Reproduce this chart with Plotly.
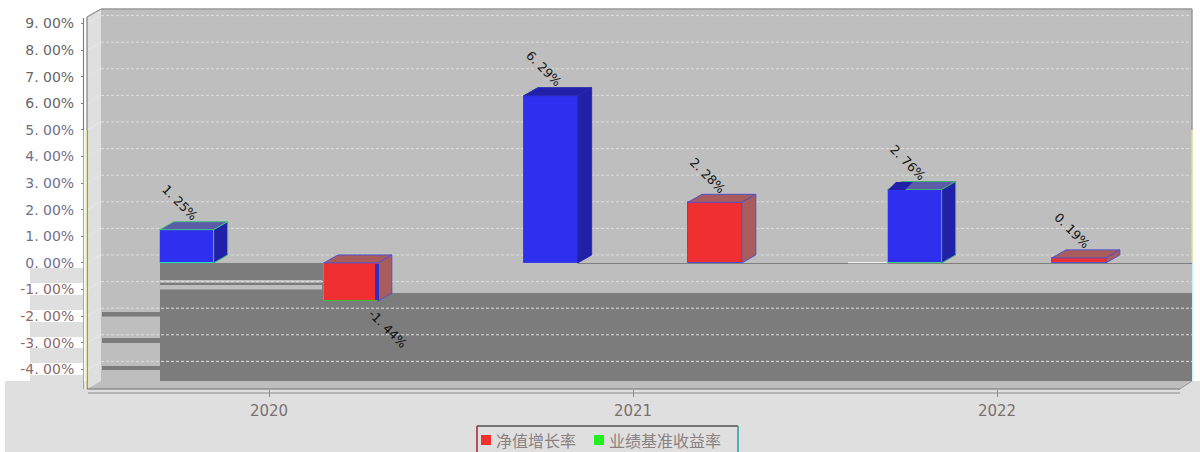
import plotly.graph_objects as go

# ---- data ----
categories = ["2020", "2021", "2022"]
series_nav = [-1.44, 2.28, 0.19]          # 净值增长率
series_benchmark = [1.25, 6.29, 2.76]     # 业绩基准收益率
y_ticks = [9, 8, 7, 6, 5, 4, 3, 2, 1, 0, -1, -2, -3, -4]
y_labels = ["9. 00%", "8. 00%", "7. 00%", "6. 00%", "5. 00%", "4. 00%", "3. 00%",
            "2. 00%", "1. 00%", "0. 00%", "-1. 00%", "-2. 00%", "-3. 00%", "-4. 00%"]
nav_labels = ["-1. 44%", "2. 28%", "0. 19%"]
benchmark_labels = ["1. 25%", "6. 29%", "2. 76%"]
legend_names = ["净值增长率", "业绩基准收益率"]

W, H = 1200, 452
PLOT_L, PLOT_R, PLOT_B = 87, 1179, 389
Y_MIN, Y_MAX = -4.74, 9.887
X_MIN, X_MAX = -0.5, 2.5
BAR_W = 0.148
DX = 14 / 364      # depth in x units
DY = 8 / 26.6      # depth in y units
xs = list(range(len(categories)))

def px(x):
    return x / W

def py(y):
    return 1 - y / H

shapes = []

def rect(x0, y0, x1, y1, color, layer="below"):
    shapes.append(dict(type="rect", xref="paper", yref="paper", x0=px(x0), x1=px(x1),
                       y0=py(y0), y1=py(y1), fillcolor=color, line=dict(width=0), layer=layer))

def seg(x0, y0, x1, y1, color, width=1, dash="solid", layer="below"):
    shapes.append(dict(type="line", xref="paper", yref="paper", x0=px(x0), x1=px(x1),
                       y0=py(y0), y1=py(y1), line=dict(color=color, width=width, dash=dash), layer=layer))

def poly(points, color, layer="below"):
    path = "M " + " L ".join(f"{px(a):.5f},{py(b):.5f}" for a, b in points) + " Z"
    shapes.append(dict(type="path", xref="paper", yref="paper", path=path,
                       fillcolor=color, line=dict(width=0), layer=layer))

GREY, WALL, DARK = "#dfdfdf", "#bebebe", "#7c7c7c"
# outer grey regions
rect(5, 381, 1200, 452, GREY)
rect(30, 268, 83, 381, GREY)
for a, b in [(283, 295), (310, 322), (337, 348), (363, 375)]:
    rect(30, a, 83, b, "#ffffff")
# back wall, side wall, floor
poly([(101, 9), (1192, 9), (1192, 381), (101, 381)], WALL)
poly([(87, 17), (101, 9), (101, 381), (87, 389)], GREY)
poly([(87, 389), (101, 381), (1192, 381), (1180, 389)], WALL)
# dark patches on the back wall
poly([(160, 263), (380, 263), (380, 293), (1192, 293), (1192, 381), (160, 381)], DARK)
rect(160, 280, 322, 282.7, WALL)
rect(160, 285, 322, 289.5, WALL)
for a, b in [(312, 316.6), (338, 343), (366, 370)]:
    rect(102, a, 160, b, DARK)
# grid lines on back wall, following the tick values
y_to_px = lambda v: (Y_MAX - v) * 26.6
for v in y_ticks:
    gy = y_to_px(v) - 8
    seg(101, gy, 1192, gy, "#dedede", 1, "3px,2px")
    seg(87, gy + 8, 101, gy, "#e8e8e8", 1)
# axis frame lines
seg(83.5, 18, 83.5, 130, "#808080", 1.2)
seg(87, 17, 87, 130, "#808080", 1.2)
seg(87, 17, 101, 9, "#909090", 1.2)
seg(101, 9, 1192, 9, "#999999", 1.5)
seg(83.5, 130, 83.5, 389, "#c58be8", 1)
seg(85.8, 130, 85.8, 389, "#fffb70", 1.5)
seg(87.3, 130, 87.3, 389, "#808080", 1)
seg(1192, 9, 1192, 130, "#999999", 1.5)
seg(1192, 130, 1192, 263, "#d8d890", 1.5)
seg(1192.8, 263, 1192.8, 381, "#b8f0f0", 1)
seg(87, 389, 1180, 389, "#707070", 1.2)
seg(88, 393, 1180, 393, "#8c8c8c", 1.2)
seg(1180, 389, 1192, 381, "#999999", 1)
seg(578, 263.5, 1192, 263.5, "#808080", 1.2)
seg(848, 262.7, 888, 262.7, "#ffffff", 1)
# manual legend box
rect(477, 426, 738, 453, GREY)
seg(477, 426, 738, 426, "#505050", 1.5)
seg(477, 426, 477, 452, "#a02030", 1.5)
seg(738, 426, 738, 452, "#20a0a0", 1.5)
rect(481, 435, 491, 445, "#f03030", "above")
rect(594, 435, 604, 445, "#20f020", "above")
# small rendering artefacts on the bars
rect(375, 264, 379, 300, "#3030c0", "above")
poly([(888, 190), (896, 182), (913, 182), (905, 190)], "#2020a8", "above")

fig = go.Figure()

BLUE, RED = "#2f2ff0", "#f03030"
blue_off = -0.300
red_off = 0.151

fig.add_trace(go.Bar(x=xs, y=series_benchmark, width=BAR_W, offset=blue_off, name=legend_names[1],
                     marker=dict(color=BLUE, line=dict(color=["#20e0c0", "#3a3af0", "#40d080"], width=1)),
                     showlegend=False))
fig.add_trace(go.Bar(x=xs, y=series_nav, width=BAR_W, offset=red_off, name=legend_names[0],
                     marker=dict(color=RED, line=dict(color=["#40c040", "#5050d0", "#5050d0"], width=1)),
                     showlegend=False))

def add_faces(vals, off, top_colors, side_colors, edge_colors):
    for i, v in enumerate(vals):
        x0 = xs[i] + off
        x1 = x0 + BAR_W
        t = max(v, 0)
        b = min(v, 0)
        fig.add_trace(go.Scatter(
            x=[x0, x0 + DX, x1 + DX, x1, x0], y=[t, t + DY, t + DY, t, t],
            mode="lines", fill="toself", fillcolor=top_colors[i],
            line=dict(color=edge_colors[i], width=1), showlegend=False, hoverinfo="skip"))
        fig.add_trace(go.Scatter(
            x=[x1, x1 + DX, x1 + DX, x1, x1], y=[t, t + DY, b + DY, b, t],
            mode="lines", fill="toself", fillcolor=side_colors[i],
            line=dict(color=edge_colors[i], width=1), showlegend=False, hoverinfo="skip"))

add_faces(series_benchmark, blue_off, ["#5c5ca8", "#2020a8", "#5c5ca8"],
          ["#2020a8", "#2020a8", "#2020a8"], ["#40c080", "#2a2ab0", "#40b070"])
add_faces(series_nav, red_off, ["#a85c5c", "#a85c5c", "#a85c5c"],
          ["#a85c5c", "#a85c5c", "#a85c5c"], ["#5050d0", "#5050d0", "#5050d0"])

annotations = []
LABEL_FONT = dict(family="DejaVu Sans", size=12.5, color="#111111")

def add_labels(vals, texts, off):
    for i, v in enumerate(vals):
        pos = v >= 0
        annotations.append(dict(
            x=xs[i] + off + BAR_W / 2, y=v, xref="x", yref="y", text=texts[i], showarrow=False,
            textangle=45, font=LABEL_FONT, xanchor="center", yanchor="middle",
            xshift=-7 if pos else 37, yshift=27 if pos else -27))

add_labels(series_benchmark, benchmark_labels, blue_off)
add_labels(series_nav, nav_labels, red_off)

LEG_FONT = dict(family="Noto Sans CJK SC", size=16, color="#8a8080")
annotations.append(dict(x=px(496), y=py(439.5), xref="paper", yref="paper", text=legend_names[0],
                        showarrow=False, xanchor="left", yanchor="middle", font=LEG_FONT, borderpad=0, borderwidth=0))
annotations.append(dict(x=px(609), y=py(439.5), xref="paper", yref="paper", text=legend_names[1],
                        showarrow=False, xanchor="left", yanchor="middle", font=LEG_FONT, borderpad=0, borderwidth=0))

def tick_color(v):
    return "#666666" if v > 5 else ("#70708c" if v >= 0 else "#8c6a6a")

tick_text = [f'<span style="color:{tick_color(v)}">{t}</span>' for v, t in zip(y_ticks, y_labels)]

fig.update_layout(
    width=W, height=H, margin=dict(l=0, r=0, t=0, b=0),
    paper_bgcolor="#ffffff", plot_bgcolor="rgba(0,0,0,0)",
    barmode="overlay", bargap=0, showlegend=False,
    shapes=shapes, annotations=annotations,
    xaxis=dict(domain=[PLOT_L / W, PLOT_R / W], range=[X_MIN, X_MAX], tickmode="array", tickvals=xs,
               ticktext=categories, showgrid=False, zeroline=False, showline=False,
               ticks="outside", ticklen=7, tickcolor="#8c8c8c", tickwidth=1, automargin=False,
               ticklabelstandoff=1, tickfont=dict(family="DejaVu Sans", size=15, color="#7a7070")),
    yaxis=dict(domain=[(H - PLOT_B) / H, 1], range=[Y_MIN, Y_MAX], tickmode="array", tickvals=y_ticks,
               ticktext=tick_text, anchor="free", position=83 / W, showgrid=False, zeroline=False,
               showline=False, ticks="outside", ticklen=2, tickcolor="#808080", tickwidth=1, automargin=False,
               ticklabelstandoff=4, tickfont=dict(family="DejaVu Sans", size=14, color="#666666")),
)

fig.write_html("out.html", config={"displayModeBar": False},
               post_script="document.body.style.margin='0';document.documentElement.style.overflow='hidden';")
